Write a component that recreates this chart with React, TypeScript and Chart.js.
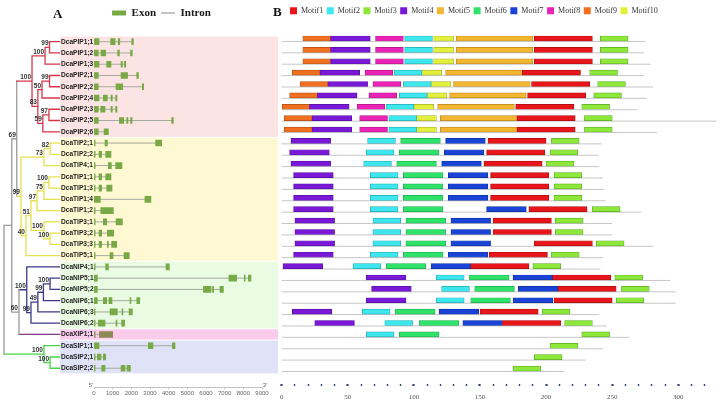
import React, { useEffect, useRef } from 'react';
import { Chart, registerables } from 'chart.js';

Chart.register(...registerables);

// ---------------- data ----------------
const genes = [
  'DcaPIP1;1', 'DcaPIP1;2', 'DcaPIP1;3', 'DcaPIP2;1', 'DcaPIP2;2', 'DcaPIP2;4', 'DcaPIP2;3', 'DcaPIP2;5', 'DcaPIP2;6',
  'DcaTIP2;1', 'DcaTIP2;2', 'DcaTIP4;1', 'DcaTIP1;1', 'DcaTIP1;3', 'DcaTIP1;4', 'DcaTIP1;2', 'DcaTIP3;1', 'DcaTIP3;2', 'DcaTIP3;3', 'DcaTIP5;1',
  'DcaNIP4;1', 'DcaNIP5;1', 'DcaNIP5;2', 'DcaNIP6;1', 'DcaNIP6;3', 'DcaNIP6;2',
  'DcaXIP1;1',
  'DcaSIP1;1', 'DcaSIP2;1', 'DcaSIP2;2',
];

const subfamilies = ['PIP', 'TIP', 'NIP', 'XIP', 'SIP'];
const subfamilyFirstRow = [0, 9, 20, 26, 27];
const subfamilyLastRow = [8, 19, 25, 26, 29];
const subfamilyBand = ['#fde4e4', '#fff9d3', '#e9fbe2', '#fbcbec', '#e0e2f7'];
const subfamilyBranch = ['#d8364c', '#e4e24a', '#3a3a88', '#7a3c7e', '#46d646'];
const backboneColor = '#9a9a9a';

// exon [start, end] in bp for each gene (same order as genes)
const exonsBp: number[][][] = [
  [[0, 270], [890, 1130], [1300, 1380], [2020, 2110]],
  [[0, 230], [375, 625], [1270, 1360], [1960, 2050]],
  [[0, 270], [680, 910], [1450, 1520], [1625, 1700]],
  [[0, 230], [1450, 1800], [2290, 2380]],
  [[0, 230], [1180, 1540], [2590, 2660]],
  [[0, 270], [500, 715], [910, 980], [1160, 1230]],
  [[0, 230], [360, 590], [910, 980], [1160, 1230]],
  [[0, 230], [1360, 1590], [1750, 1820], [1960, 2040], [4160, 4250]],
  [[0, 230], [540, 770]],
  [[0, 60], [590, 715], [3300, 3625]],
  [[0, 60], [270, 410], [625, 910]],
  [[0, 60], [770, 930], [1160, 1500]],
  [[0, 60], [270, 410], [625, 910]],
  [[0, 60], [270, 410], [680, 965]],
  [[20, 340], [2730, 3050]],
  [[0, 60], [360, 1035]],
  [[0, 60], [500, 680], [1180, 1520]],
  [[0, 60], [270, 410], [715, 1055]],
  [[0, 60], [270, 410], [715, 770], [945, 1215]],
  [[0, 60], [860, 1020], [1610, 1890]],
  [[0, 60], [625, 770], [3860, 4035]],
  [[20, 180], [7230, 7640], [8050, 8100], [8270, 8410]],
  [[20, 180], [5860, 6270], [6350, 6410], [6750, 6930]],
  [[20, 180], [500, 680], [800, 965], [1930, 1980], [2290, 2450]],
  [[0, 60], [860, 1250], [1500, 1550], [1875, 2055]],
  [[0, 60], [230, 590], [1180, 1230], [1480, 1640]],
  [[0, 60], [290, 1000]],
  [[20, 270], [2910, 3160], [4200, 4340]],
  [[0, 60], [180, 375], [500, 625]],
  [[0, 60], [410, 590], [1450, 1660], [1770, 1950]],
];
const geneTicks = [0, 1000, 2000, 3000, 4000, 5000, 6000, 7000, 8000, 9000];

// protein lengths (aa)
const proteinLength = [
  275, 274, 279, 274, 281, 276, 269, 329, 284,
  242, 240, 240, 243, 244, 245, 272, 250, 250, 281, 243,
  241, 294, 298, 298, 240, 246,
  263,
  243, 230, 214,
];

const motifNames = ['Motif1', 'Motif2', 'Motif3', 'Motif4', 'Motif5', 'Motif6', 'Motif7', 'Motif8', 'Motif9', 'Motif10'];
const motifWidth = [44, 21, 21, 30, 58, 30, 30, 21, 21, 15];
const motifColor = ['#e8161b', '#3ee6ee', '#8ee83a', '#7a18d8', '#f2b630', '#2ee26a', '#1a44d8', '#ec22b8', '#f07020', '#e2f03c'];
const motifEdge = ['#a80e12', '#22a8b0', '#5aa82a', '#5410a0', '#b88420', '#20a84c', '#10309a', '#a8187f', '#b04f14', '#a8b02a'];

// [motif number, start position] for each protein
const motifHits: number[][][] = [
  [[9, 16], [4, 37], [8, 71], [2, 93], [10, 115], [5, 132], [1, 191], [3, 241]],
  [[9, 16], [4, 37], [8, 71], [2, 93], [10, 115], [5, 132], [1, 191], [3, 241]],
  [[9, 16], [4, 37], [8, 71], [2, 93], [10, 115], [5, 132], [1, 191], [3, 241]],
  [[9, 8], [4, 29], [8, 63], [2, 85], [10, 106], [5, 124], [1, 182], [3, 233]],
  [[9, 14], [4, 35], [8, 69], [2, 92], [10, 113], [5, 130], [1, 189], [3, 239]],
  [[9, 6], [4, 27], [8, 66], [2, 89], [10, 110], [5, 127], [1, 186], [3, 236]],
  [[9, 0], [4, 21], [8, 57], [2, 79], [10, 100], [5, 118], [1, 177], [3, 227]],
  [[9, 2], [4, 23], [8, 59], [2, 81], [10, 102], [5, 120], [1, 178], [3, 229]],
  [[9, 2], [4, 23], [8, 59], [2, 81], [10, 102], [5, 120], [1, 178], [3, 229]],
  [[4, 7], [2, 65], [6, 90], [7, 124], [1, 156], [3, 204]],
  [[4, 6], [2, 64], [6, 89], [7, 123], [1, 155], [3, 203]],
  [[4, 7], [2, 62], [6, 87], [7, 121], [1, 153], [3, 200]],
  [[4, 9], [2, 67], [6, 92], [7, 126], [1, 158], [3, 206]],
  [[4, 9], [2, 67], [6, 92], [7, 126], [1, 158], [3, 206]],
  [[4, 9], [2, 67], [6, 92], [7, 126], [1, 158], [3, 206]],
  [[4, 9], [2, 67], [6, 92], [7, 155], [1, 187], [3, 235]],
  [[4, 10], [2, 69], [6, 94], [7, 128], [1, 160], [3, 207]],
  [[4, 10], [2, 69], [6, 94], [7, 128], [1, 160], [3, 207]],
  [[4, 10], [2, 69], [6, 94], [7, 128], [1, 191], [3, 238]],
  [[4, 9], [2, 67], [6, 92], [7, 126], [1, 157], [3, 204]],
  [[4, 1], [2, 54], [6, 79], [7, 113], [1, 143], [3, 190]],
  [[4, 64], [2, 117], [6, 142], [7, 175], [1, 205], [3, 252]],
  [[4, 68], [2, 121], [6, 146], [7, 179], [1, 209], [3, 257]],
  [[4, 64], [2, 117], [6, 143], [7, 175], [1, 206], [3, 253]],
  [[4, 8], [2, 61], [6, 86], [7, 119], [1, 150], [3, 197]],
  [[4, 25], [2, 78], [6, 104], [7, 137], [1, 167], [3, 214]],
  [[2, 64], [6, 89], [3, 227]],
  [[3, 203]],
  [[3, 191]],
  [[3, 175]],
];
const motifTicks = [0, 10, 20, 30, 40, 50, 60, 70, 80, 90, 100, 110, 120, 130, 140, 150, 160, 170, 180, 190, 200, 210, 220, 230, 240, 250, 260, 270, 280, 290, 300, 310, 320];

// phylogeny: d = branch depth (0 root .. 100 tips), b = bootstrap
type Clade = { d: number; b?: number; c: Array<Clade | string> };
const tree: Clade = {
  d: 0, c: [
    {
      d: 14, c: [
        {
          d: 23, b: 69, c: [
            {
              d: 50.5, b: 100, c: [
                { d: 74, b: 100, c: [{ d: 82, b: 99, c: ['DcaPIP1;1', 'DcaPIP1;2'] }, 'DcaPIP1;3'] },
                {
                  d: 61, b: 83, c: [
                    { d: 68.5, b: 50, c: [{ d: 82, b: 99, c: ['DcaPIP2;1', 'DcaPIP2;2'] }, 'DcaPIP2;4'] },
                    { d: 70, b: 59, c: [{ d: 81, b: 97, c: ['DcaPIP2;3', 'DcaPIP2;5'] }, 'DcaPIP2;6'] },
                  ],
                },
              ],
            },
            {
              d: 30.6, b: 99, c: [
                { d: 72, b: 73, c: [{ d: 83, b: 82, c: ['DcaTIP2;1', 'DcaTIP2;2'] }, 'DcaTIP4;1'] },
                {
                  d: 39.6, b: 40, c: [
                    {
                      d: 48.6, b: 51, c: [
                        { d: 59.5, b: 97, c: [{ d: 72, b: 75, c: [{ d: 81, b: 100, c: ['DcaTIP1;1', 'DcaTIP1;3'] }, 'DcaTIP1;4'] }, 'DcaTIP1;2'] },
                        { d: 72, b: 100, c: ['DcaTIP3;1', { d: 83, b: 100, c: ['DcaTIP3;2', 'DcaTIP3;3'] }] },
                      ],
                    },
                    'DcaTIP5;1',
                  ],
                },
              ],
            },
          ],
        },
        {
          d: 27, b: 60, c: [
            {
              d: 41, b: 100, c: [
                'DcaNIP4;1',
                {
                  d: 48.6, b: 99, c: [
                    { d: 61, b: 49, c: [{ d: 71, b: 99, c: [{ d: 83, b: 100, c: ['DcaNIP5;1', 'DcaNIP5;2'] }, 'DcaNIP6;1'] }, 'DcaNIP6;3'] },
                    'DcaNIP6;2',
                  ],
                },
              ],
            },
            'DcaXIP1;1',
          ],
        },
      ],
    },
    { d: 72, b: 100, c: ['DcaSIP1;1', { d: 83, b: 100, c: ['DcaSIP2;1', 'DcaSIP2;2'] }] },
  ],
};
const TIP_DEPTH = 100;

// ---------------- layout constants ----------------
const LEFT_W = 280;
const RIGHT_X = 270;
const RIGHT_W = 451;
const ROW0_PX = 41.7;
const ROW_STEP = 11.26;
const MOTIF_ROW0_PX = 38.5;
const MOTIF_ROW_STEP = 11.38;
const MOTIF_LINE_OFFSET = 0.26;
const TREE_ROOT_PX = 4;
const TREE_TIP_PX = 59.5;
const MOTIF0_PX = 281.7;
const MOTIF300_PX = 678.3;
const exonColor = '#77aa44';
const xipExonColor = '#8b8a55';
const intronColor = '#a3aaa0';
const SERIF = '"Liberation Serif", "Times New Roman", serif';
const SANS = '"Liberation Sans", Arial, sans-serif';

function fitRange(c0: number, c1: number, v0: number, p0: number, v1: number, p1: number) {
  const s = (p1 - p0) / (v1 - v0);
  const min = v0 - (p0 - c0) / s;
  return { min, max: min + (c1 - c0) / s };
}

function groupOfRow(row: number) {
  for (let g = 0; g < subfamilies.length; g++) {
    if (row >= subfamilyFirstRow[g] && row <= subfamilyLastRow[g]) return g;
  }
  return 0;
}

type Pt = { x: number | null; y: number | null };
function buildTree() {
  const segs: Record<string, Pt[]> = {};
  const labels: { d: number; y: number; b: number }[] = [];
  const push = (color: string, a: Pt, b: Pt) => {
    (segs[color] = segs[color] || []).push(a, b, { x: null, y: null });
  };
  const walk = (node: Clade): { y: number; color: string } => {
    const kids = node.c.map((ch) => {
      if (typeof ch === 'string') {
        const row = genes.indexOf(ch);
        return { y: row, d: TIP_DEPTH, color: subfamilyBranch[groupOfRow(row)] };
      }
      const r = walk(ch);
      return { y: r.y, d: ch.d, color: r.color };
    });
    const first = kids[0];
    const last = kids[kids.length - 1];
    const y = (first.y + last.y) / 2;
    const same = kids.every((k) => k.color === first.color);
    const color = same ? first.color : backboneColor;
    push(color, { x: node.d, y: first.y }, { x: node.d, y: last.y });
    kids.forEach((k) => push(k.color, { x: node.d, y: k.y }, { x: k.d, y: k.y }));
    if (node.b !== undefined) labels.push({ d: node.d, y, b: node.b });
    return { y, color };
  };
  walk(tree);
  return { segs, labels };
}

function buildLeft(canvas: HTMLCanvasElement) {
  const { segs, labels } = buildTree();
  const exonData: any[] = [];
  const exonColors: string[] = [];
  const intronData: Pt[] = [];
  exonsBp.forEach((ex, row) => {
    const c = subfamilies[groupOfRow(row)] === 'XIP' ? xipExonColor : exonColor;
    ex.forEach(([s, e]) => {
      exonData.push({ x: [s, e], y: row });
      exonColors.push(c);
    });
    intronData.push({ x: ex[0][0], y: row }, { x: ex[ex.length - 1][1], y: row }, { x: null, y: null });
  });
  const treeSets = Object.keys(segs).map((color) => ({
    type: 'line' as const,
    label: 'tree',
    data: segs[color],
    xAxisID: 'xt',
    yAxisID: 'y',
    indexAxis: 'x' as const,
    borderColor: color,
    borderWidth: 1.3,
    borderCapStyle: 'square' as const,
    pointRadius: 0,
    spanGaps: false,
    clip: false as any,
    order: 3,
  }));

  const decor = {
    id: 'leftDecor',
    beforeDraw(chart: any) {
      const { ctx } = chart;
      const y = chart.scales.y;
      const x0 = y.left - 1;
      const x1 = chart.width - 2;
      ctx.save();
      subfamilies.forEach((_, g) => {
        const t = y.getPixelForValue(subfamilyFirstRow[g] - 0.5) + 0.5;
        const b = y.getPixelForValue(subfamilyLastRow[g] + 0.5) - 0.5;
        ctx.fillStyle = subfamilyBand[g];
        ctx.fillRect(x0, t, x1 - x0, b - t);
      });
      ctx.restore();
    },
    afterDraw(chart: any) {
      const { ctx } = chart;
      const y = chart.scales.y;
      const xt = chart.scales.xt;
      const xg = chart.scales.xg;
      ctx.save();
      ctx.fillStyle = '#111';
      ctx.font = `bold 13px ${SERIF}`;
      ctx.textAlign = 'left';
      ctx.textBaseline = 'alphabetic';
      ctx.fillText('A', 53, 18);
      ctx.font = `bold 6.5px ${SANS}`;
      ctx.fillStyle = '#333';
      ctx.textAlign = 'right';
      ctx.textBaseline = 'bottom';
      labels.forEach((l) => {
        ctx.fillText(String(l.b), xt.getPixelForValue(l.d) - 1, y.getPixelForValue(l.y) - 0.5);
      });
      ctx.font = `6px ${SANS}`;
      ctx.fillStyle = '#666';
      ctx.textAlign = 'center';
      ctx.fillText("5'", xg.getPixelForValue(0) - 3, xg.top + 1);
      ctx.fillText("3'", xg.getPixelForValue(9000) + 3, xg.top + 1);
      ctx.restore();
    },
  };

  const chart = new Chart(canvas, {
    type: 'bar',
    data: {
      datasets: [
        {
          type: 'bar',
          label: 'Exon',
          data: exonData,
          xAxisID: 'xg',
          yAxisID: 'y',
          backgroundColor: exonColors,
          borderWidth: 0,
          barThickness: 6,
          grouped: false,
          order: 0,
        } as any,
        {
          type: 'line',
          label: 'Intron',
          data: intronData,
          xAxisID: 'xg',
          yAxisID: 'y',
          indexAxis: 'x',
          borderColor: intronColor,
          borderWidth: 1,
          pointRadius: 0,
          spanGaps: false,
          order: 1,
        } as any,
        ...(treeSets as any[]),
      ],
    },
    options: {
      indexAxis: 'y',
      animation: false,
      responsive: false,
      events: [],
      layout: { padding: { left: 61, right: 18, top: 2.5, bottom: 0 } },
      plugins: {
        tooltip: { enabled: false },
        legend: {
          display: true,
          position: 'top',
          align: 'center',
          labels: {
            usePointStyle: true,
            pointStyleWidth: 14,
            boxHeight: 5,
            padding: 5,
            color: '#1a1a1a',
            font: { family: SERIF, size: 11, weight: 'bold' },
            generateLabels: (c: any) => [
              { text: c.data.datasets[0].label, fillStyle: exonColor, strokeStyle: exonColor, lineWidth: 0, pointStyle: 'rect', hidden: false, datasetIndex: 0, fontColor: '#1a1a1a' },
              { text: c.data.datasets[1].label, fillStyle: 'rgba(0,0,0,0)', strokeStyle: '#8a8a8a', lineWidth: 1, pointStyle: 'line', hidden: false, datasetIndex: 1, fontColor: '#1a1a1a' },
            ],
          },
        },
      },
      scales: {
        y: {
          type: 'linear',
          position: 'left',
          reverse: true,
          offset: false,
          bounds: 'data',
          min: -2.5,
          max: 31,
          grid: { display: false },
          border: { display: false },
          afterBuildTicks: (s: any) => { s.ticks = genes.map((_, i) => ({ value: i })); },
          afterFit: (s: any) => { s.width = 33; },
          ticks: {
            autoSkip: false,
            crossAlign: 'far',
            color: '#1e1e1e',
            font: { family: SANS, size: 6.6, weight: 'bold' },
            callback: (v: any) => genes[v] ?? '',
          },
        },
        xg: {
          type: 'linear',
          axis: 'x',
          position: 'bottom',
          min: 0,
          max: 9000,
          bounds: 'data',
          afterBuildTicks: (s: any) => { s.ticks = geneTicks.map((v) => ({ value: v })); },
          afterFit: (s: any) => { s.height = 16; },
          border: { display: true, color: '#b4b4b4', width: 0.8 },
          grid: { display: true, drawOnChartArea: false, tickLength: 2, color: '#b4b4b4', lineWidth: 0.8 },
          ticks: { autoSkip: false, maxRotation: 0, padding: 1, color: '#666', font: { family: SANS, size: 6 }, callback: (v: any) => String(v) },
        },
        xt: { type: 'linear', axis: 'x', display: false, min: 160, max: 465, bounds: 'data' },
      } as any,
    },
    plugins: [decor],
  } as any);

  const ca = chart.chartArea;
  const yr = fitRange(ca.top, ca.bottom, 0, ROW0_PX, 1, ROW0_PX + ROW_STEP);
  const tr = fitRange(ca.left, ca.right, 0, TREE_ROOT_PX, TIP_DEPTH, TREE_TIP_PX);
  const sc: any = chart.options.scales;
  sc.y.min = yr.min; sc.y.max = yr.max;
  sc.xt.min = tr.min; sc.xt.max = tr.max;
  chart.update('none');
  return chart;
}

function buildRight(canvas: HTMLCanvasElement) {
  const motifSets = motifNames.map((name, m) => {
    const data: any[] = [];
    motifHits.forEach((hits, row) => {
      hits.forEach(([num, start]) => {
        if (num === m + 1) data.push({ x: [start, start + motifWidth[m]], y: row });
      });
    });
    return {
      type: 'bar' as const,
      label: name,
      data,
      xAxisID: 'x',
      yAxisID: 'y',
      backgroundColor: motifColor[m],
      borderColor: motifEdge[m],
      borderWidth: 0.7,
      borderSkipped: false,
      barThickness: 5,
      grouped: false,
      clip: false as any,
      order: 0,
    };
  });
  const backbone: Pt[] = [];
  proteinLength.forEach((len, row) => {
    backbone.push({ x: 0, y: row + MOTIF_LINE_OFFSET }, { x: len, y: row + MOTIF_LINE_OFFSET }, { x: null, y: null });
  });

  const decor = {
    id: 'rightDecor',
    afterDraw(chart: any) {
      const { ctx } = chart;
      ctx.save();
      ctx.fillStyle = '#111';
      ctx.font = `bold 13px ${SERIF}`;
      ctx.textAlign = 'left';
      ctx.textBaseline = 'alphabetic';
      ctx.fillText('B', 3, 16);
      ctx.restore();
    },
  };

  const chart = new Chart(canvas, {
    type: 'bar',
    data: {
      datasets: [
        ...(motifSets as any[]),
        {
          type: 'line',
          label: 'protein',
          data: backbone,
          xAxisID: 'x',
          yAxisID: 'y',
          indexAxis: 'x',
          borderColor: '#c6c6c6',
          borderWidth: 1,
          pointRadius: 0,
          spanGaps: false,
          clip: false,
          order: 5,
        } as any,
      ],
    },
    options: {
      indexAxis: 'y',
      animation: false,
      responsive: false,
      events: [],
      layout: { padding: { left: 16.5, right: 8, top: 3.2, bottom: 0 } },
      plugins: {
        tooltip: { enabled: false },
        legend: {
          display: true,
          position: 'top',
          align: 'start',
          labels: {
            boxWidth: 7,
            boxHeight: 7,
            padding: 3.5,
            color: '#333',
            font: { family: SERIF, size: 8 },
            generateLabels: () => motifNames.map((n, i) => ({
              text: n, fillStyle: motifColor[i], strokeStyle: motifColor[i], lineWidth: 0, hidden: false, datasetIndex: i, fontColor: '#333',
            })),
          },
        },
      },
      scales: {
        y: {
          type: 'linear',
          display: false,
          reverse: true,
          offset: false,
          bounds: 'data',
          min: -3,
          max: 31,
        },
        x: {
          type: 'linear',
          position: 'bottom',
          min: 3.6,
          max: 325,
          bounds: 'data',
          afterBuildTicks: (s: any) => { s.ticks = motifTicks.map((v) => ({ value: v })); },
          afterFit: (s: any) => { s.height = 19.5; },
          border: { display: false },
          grid: {
            display: true,
            drawOnChartArea: false,
            tickLength: 2.5,
            tickColor: '#2f3f78',
            tickWidth: (c: any) => (c.tick && c.tick.value % 50 === 0 ? 2.2 : 1.4),
          },
          ticks: {
            autoSkip: false,
            maxRotation: 0,
            padding: 7,
            color: '#555',
            font: { family: SERIF, size: 7 },
            callback: (v: any) => (v % 50 === 0 ? String(v) : ''),
          },
        },
      } as any,
    },
    plugins: [decor],
  } as any);

  const ca = chart.chartArea;
  const yr = fitRange(ca.top, ca.bottom, 0, MOTIF_ROW0_PX, 1, MOTIF_ROW0_PX + MOTIF_ROW_STEP);
  const xr = fitRange(ca.left, ca.right, 0, MOTIF0_PX - RIGHT_X, 300, MOTIF300_PX - RIGHT_X);
  const sc: any = chart.options.scales;
  sc.y.min = yr.min; sc.y.max = yr.max;
  sc.x.min = xr.min; sc.x.max = xr.max;
  chart.update('none');
  return chart;
}

export default function App() {
  const leftRef = useRef<HTMLCanvasElement>(null);
  const rightRef = useRef<HTMLCanvasElement>(null);
  useEffect(() => {
    document.body.style.margin = '0';
    const l = buildLeft(leftRef.current!);
    const r = buildRight(rightRef.current!);
    return () => { l.destroy(); r.destroy(); };
  }, []);
  return (
    <div style={{ position: 'relative', width: 721, height: 403, background: '#fff', overflow: 'hidden' }}>
      <canvas ref={leftRef} width={LEFT_W} height={403} style={{ position: 'absolute', left: 0, top: 0 }} />
      <canvas ref={rightRef} width={RIGHT_W} height={403} style={{ position: 'absolute', left: RIGHT_X, top: 0 }} />
    </div>
  );
}
